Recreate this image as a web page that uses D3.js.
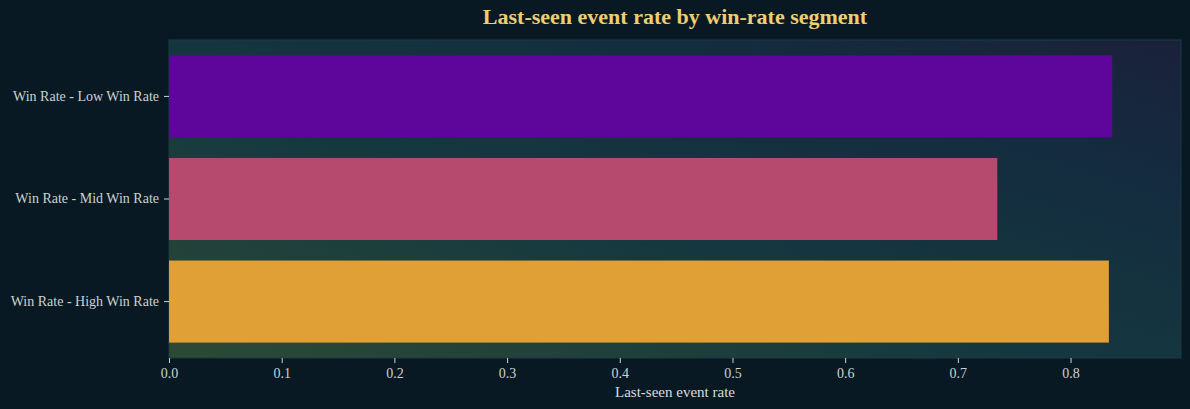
<!DOCTYPE html>
<html>
<head>
<meta charset="utf-8">
<script src="https://cdn.jsdelivr.net/npm/d3@7"></script>
<style>
  html, body { margin: 0; padding: 0; background: #081923; overflow: hidden; }
  svg { display: block; }
</style>
</head>
<body>
<div id="chart"></div>
<script>
const segments = ['Win Rate - Low Win Rate', 'Win Rate - Mid Win Rate', 'Win Rate - High Win Rate']
const eventRates = [0.837, 0.735, 0.834]
const barColors = ['#5e059b', '#b54a6e', '#e0a035']
const xTicks = [0, 0.1, 0.2, 0.3, 0.4, 0.5, 0.6, 0.7, 0.8]

const width = 1190
const height = 409
const margin = { top: 40, right: 9, bottom: 51, left: 169 }
const innerWidth = width - margin.left - margin.right
const innerHeight = height - margin.top - margin.bottom
const font = "'Liberation Serif', 'DejaVu Serif', serif"

const svg = d3.select('#chart').append('svg')
    .attr('width', width)
    .attr('height', height)

// diagonal background gradient of the plot area
const grad = svg.append('defs').append('linearGradient')
    .attr('id', 'bg')
    .attr('x1', 0).attr('y1', 1).attr('x2', 1).attr('y2', 0)
grad.append('stop').attr('offset', '0%').attr('stop-color', '#2d4a35')
grad.append('stop').attr('offset', '40%').attr('stop-color', '#15393f')
grad.append('stop').attr('offset', '75%').attr('stop-color', '#142c3f')
grad.append('stop').attr('offset', '100%').attr('stop-color', '#1a213a')

const x = d3.scaleLinear()
    .domain([0, 0.898])
    .range([0, innerWidth])

const y = d3.scaleBand()
    .domain(segments)
    .range([0, innerHeight])
    .paddingInner(0.2)
    .paddingOuter(0.15)

const g = svg.append('g')
    .attr('transform', `translate(${margin.left},${margin.top})`)

g.append('rect')
    .attr('width', innerWidth)
    .attr('height', innerHeight)
    .attr('fill', 'url(#bg)')
    .attr('stroke', '#1d3a44')
    .attr('stroke-width', 1)

g.selectAll('.bar')
    .data(segments)
    .enter()
    .append('rect')
        .attr('class', 'bar')
        .attr('x', x(0))
        .attr('y', d => y(d))
        .attr('width', (d, i) => x(eventRates[i]) - x(0))
        .attr('height', y.bandwidth())
        .attr('fill', (d, i) => barColors[i])

const xAxisG = g.append('g')
    .attr('transform', `translate(0,${innerHeight})`)
    .call(d3.axisBottom(x).tickValues(xTicks).tickFormat(d3.format('.1f')).tickSize(5).tickPadding(5))

const yAxisG = g.append('g')
    .call(d3.axisLeft(y).tickSize(5).tickPadding(5))

for (const ax of [xAxisG, yAxisG]) {
    ax.select('.domain').remove()
    ax.selectAll('.tick line').attr('stroke', '#c9d3d3')
    ax.selectAll('.tick text')
        .attr('fill', '#c9d3d3')
        .style('font-family', font)
        .style('font-size', '14px')
}

svg.append('text')
    .attr('x', margin.left + innerWidth / 2)
    .attr('y', 24)
    .attr('text-anchor', 'middle')
    .attr('fill', '#f0cd72')
    .style('font-family', font)
    .style('font-weight', 'bold')
    .style('font-size', '22px')
    .text('Last-seen event rate by win-rate segment')

svg.append('text')
    .attr('x', margin.left + innerWidth / 2)
    .attr('y', 397)
    .attr('text-anchor', 'middle')
    .attr('fill', '#d7dddd')
    .style('font-family', font)
    .style('font-size', '15px')
    .text('Last-seen event rate')
</script>
</body>
</html>
